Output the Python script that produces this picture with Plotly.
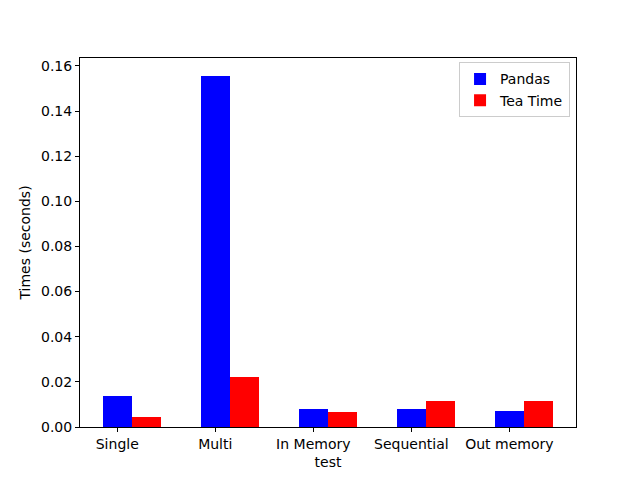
import plotly.graph_objects as go

tests = ["Single", "Multi", "In Memory", "Sequential", "Out memory"]
pandas_times = [0.01374, 0.1557, 0.00798, 0.00798, 0.00709]
teatime_times = [0.00443, 0.02216, 0.00665, 0.01152, 0.01152]
y_ticks = [0.00, 0.02, 0.04, 0.06, 0.08, 0.10, 0.12, 0.14, 0.16]

pos = list(range(len(tests)))
bw = 0.3

fig = go.Figure()
fig.add_trace(go.Bar(x=pos, y=pandas_times, name="Pandas", width=bw, offset=-bw / 2,
                     marker=dict(color="blue", line=dict(width=0))))
fig.add_trace(go.Bar(x=pos, y=teatime_times, name="Tea Time", width=bw, offset=bw / 2,
                     marker=dict(color="red", line=dict(width=0))))

axis_style = dict(showline=True, linecolor="black", linewidth=1, mirror=True,
                  ticks="outside", ticklen=4, tickcolor="black", showgrid=False,
                  zeroline=False, tickfont=dict(size=14, color="black"))

# page body has an 8px margin, so the margins are shifted to compensate
fig.update_layout(
    width=640, height=480,
    margin=dict(l=72, r=72, t=50, b=61),
    paper_bgcolor="white", plot_bgcolor="white",
    font=dict(family="DejaVu Sans", size=14, color="black"),
    barmode="overlay",
    bargap=0,
    legend=dict(x=0.988, y=0.988, xanchor="right", yanchor="top",
                bordercolor="#cccccc", borderwidth=1, bgcolor="white",
                font=dict(size=14)),
    xaxis=dict(axis_style, range=[-0.38, 4.68], tickvals=pos, ticktext=tests,
               title=dict(text="test", standoff=6, font=dict(size=14))),
    yaxis=dict(axis_style, range=[0, 0.1635], tickvals=y_ticks, tickformat=".2f",
               title=dict(text="Times (seconds)", standoff=7, font=dict(size=14))),
)

fig.write_html("out.html")
